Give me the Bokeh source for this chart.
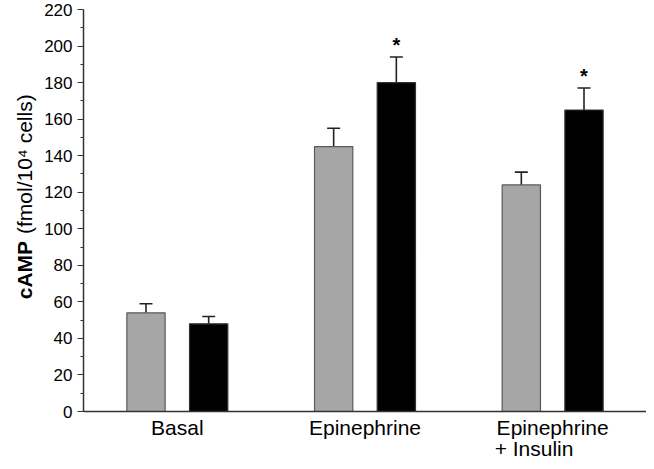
from bokeh.plotting import figure
from bokeh.models import (FactorRange, Range1d, ColumnDataSource, Whisker, TeeHead,
                          SingleIntervalTicker, Span)
from bokeh.layouts import row
from bokeh.transform import dodge
from bokeh.core.properties import value
from bokeh.embed import file_html
from bokeh.resources import INLINE
import math

# ---- data ----
groups = ["Basal", "Epinephrine", "Epinephrine + Insulin"]
label_line1 = ["Basal", "Epinephrine", "Epinephrine"]
label_line2 = ["", "", "+ Insulin"]
control = [54, 145, 124]
control_err = [59, 155, 131]
treated = [48, 180, 165]
treated_err = [52, 194, 177]
significant = [False, True, True]
y_min, y_max = 0, 220
y_title_bold = "cAMP"
y_title_rest = "(fmol/10\u2074 cells)"

FONT = "Liberation Sans"
H = 461
TOP = 9          # px above the 220 line
ZERO_PX = 411    # px from top where value 0 sits
scale = (ZERO_PX - TOP) / (y_max - y_min)
y_start = y_min - (H - ZERO_PX) / scale   # room below the baseline for category labels

# ---- main chart ----
p = figure(x_range=FactorRange(*groups), y_range=Range1d(y_start, y_max),
           width=606, height=H, output_backend="svg", toolbar_location=None,
           min_border_left=43, min_border_right=0, min_border_top=TOP, min_border_bottom=0)
p.outline_line_color = None
p.grid.grid_line_color = None
p.xaxis.visible = False

src = ColumnDataSource(dict(g=groups, c=control, ce=control_err, t=treated, te=treated_err,
                            l1=label_line1, l2=label_line2, z=[y_min] * len(groups)))

W = 0.204
OFF = 0.167
p.vbar(x=dodge("g", -OFF, range=p.x_range), top="c", bottom="z", width=W, source=src,
       fill_color="#a6a6a6", line_color="#5a5a5a", line_width=1.2)
p.vbar(x=dodge("g", OFF, range=p.x_range), top="t", bottom="z", width=W, source=src,
       fill_color="#000000", line_color="#333333", line_width=1.2)

for base, low, up in ((-OFF, "c", "ce"), (OFF, "t", "te")):
    w = Whisker(base=dodge("g", base, range=p.x_range), lower=low, upper=up, source=src,
                line_color="#222222", line_width=1.6,
                upper_head=TeeHead(size=13, line_color="#222222", line_width=1.6),
                lower_head=None)
    p.add_layout(w)

# baseline (x axis line)
p.add_layout(Span(location=y_min, dimension="width", line_color="#333333", line_width=1.5))

# significance stars
sx, sy = [], []
for g, e, s in zip(groups, treated_err, significant):
    if s:
        sx.append(g)
        sy.append(e)
star_src = ColumnDataSource(dict(g=sx, y=sy))
p.text(x=dodge("g", OFF, range=p.x_range), y="y", text=value("*"), source=star_src,
       text_font=value(FONT), text_font_style="bold", text_font_size="20px",
       text_align="center", text_baseline="bottom", y_offset=-1, text_color="black")

# category labels under the baseline
p.text(x="g", y="z", text="l1", source=src, text_font=value(FONT), text_font_size="21px",
       text_align="center", text_baseline="top", y_offset=4, text_color="black")
p.text(x="g", y="z", text="l2", source=src, text_font=value(FONT), text_font_size="21px",
       text_align="left", text_baseline="top", x_offset=-58, y_offset=25,
       text_color="black")

# y axis
p.yaxis.bounds = (y_min, y_max)
p.yaxis.ticker = SingleIntervalTicker(interval=20, num_minor_ticks=2)
p.yaxis.axis_line_color = "#333333"
p.yaxis.axis_line_width = 1.5
p.yaxis.major_tick_line_color = "#333333"
p.yaxis.minor_tick_line_color = "#333333"
p.yaxis.major_tick_out = 6
p.yaxis.major_tick_in = 0
p.yaxis.minor_tick_out = 3
p.yaxis.minor_tick_in = 0
p.yaxis.major_label_text_font = FONT
p.yaxis.major_label_text_font_size = "17px"
p.yaxis.major_label_text_color = "black"
p.yaxis.major_label_standoff = 5

# ---- y-axis title panel (mixed bold / regular) ----
t = figure(width=40, height=H, x_range=Range1d(0, 40), y_range=Range1d(0, H),
           output_backend="svg", toolbar_location=None, min_border=0)
t.axis.visible = False
t.grid.grid_line_color = None
t.outline_line_color = None
t.text(x=[24], y=[H - 236], text=[y_title_bold], angle=math.pi / 2,
       text_font=value(FONT), text_font_style="bold", text_font_size="21px",
       text_align="right", text_baseline="middle", text_color="black")
t.text(x=[24], y=[H - 229], text=[y_title_rest], angle=math.pi / 2,
       text_font=value(FONT), text_font_size="21px",
       text_align="left", text_baseline="middle", text_color="black")

layout = row(t, p, spacing=0)
open("out.html", "w").write(file_html(layout, INLINE))
